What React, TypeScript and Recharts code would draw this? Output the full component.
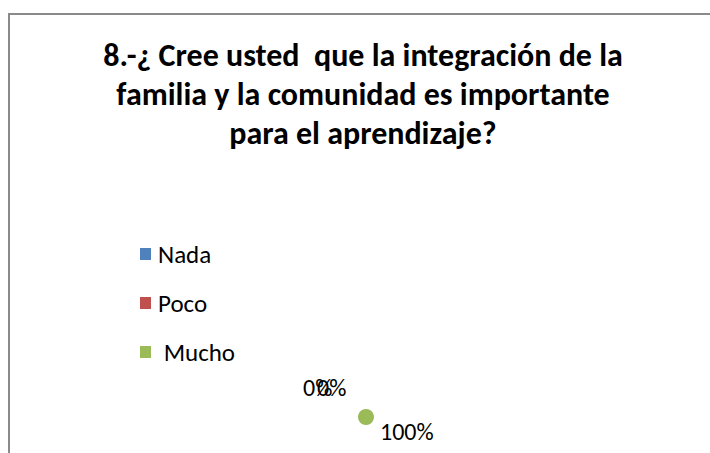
import React from 'react';
import { PieChart, Pie, Cell, Legend } from 'recharts';

const categories = ['Nada', 'Poco', ' Mucho'];
const values = [0, 0, 100];
const colors = ['#4F81BD', '#C0504D', '#9BBB59'];
const titleLines = [
  '8.-¿ Cree usted  que la integración de la',
  'familia y la comunidad es importante',
  'para el aprendizaje?',
];

const data = categories.map((name, i) => ({ name, value: values[i] }));

const FONT = 'Carlito, Calibri, Lato, sans-serif';

const labelOffsets = [
  { dx: -63, dy: -21 },
  { dx: -49, dy: -21 },
  { dx: 14, dy: 23 },
];

const renderLabel = (props: any) => {
  const { cx, cy, index, percent } = props;
  const o = labelOffsets[index] || { dx: 0, dy: 0 };
  return (
    <text
      key={`lbl-${index}`}
      x={cx + o.dx}
      y={cy + o.dy}
      fill="#000"
      fontFamily={FONT}
      fontSize={24}
      textAnchor="start"
    >
      {`${Math.round((percent || 0) * 100)}%`}
    </text>
  );
};

const renderLegend = () => {
  return (
    <svg width={240} height={160} style={{ display: 'block', overflow: 'visible' }}>
      {categories.map((name, i) => (
        <g key={i}>
          <rect x={10} y={19 + i * 49} width={11} height={12} fill={colors[i]} />
          <text
            x={28}
            y={34 + i * 49}
            fontFamily={FONT}
            fontSize={25}
            fill="#000"
            style={{ whiteSpace: 'pre' }}
          >
            {name}
          </text>
        </g>
      ))}
    </svg>
  );
};

export default function App() {
  return (
    <div
      style={{
        position: 'fixed',
        left: 0,
        top: 0,
        width: 710,
        height: 453,
        overflow: 'hidden',
        background: '#fff',
      }}
    >
      <div
        style={{
          position: 'absolute',
          left: 8,
          top: 13,
          width: 900,
          height: 900,
          border: '2px solid #8a8a8a',
          boxSizing: 'border-box',
        }}
      />
      <svg
        width={710}
        height={453}
        style={{ position: 'absolute', left: 0, top: 0 }}
      >
        {titleLines.map((t, i) => (
          <text
            key={i}
            x={363}
            y={66 + i * 39}
            textAnchor="middle"
            fontFamily={FONT}
            fontWeight="bold"
            fontSize={32}
            fill="#000"
            style={{ whiteSpace: 'pre' }}
          >
            {t}
          </text>
        ))}
      </svg>
      <div style={{ position: 'absolute', left: 0, top: 0 }}>
        <PieChart width={710} height={453} margin={{ top: 0, right: 0, bottom: 0, left: 0 }}>
          <Pie
            data={data}
            dataKey="value"
            nameKey="name"
            cx={366}
            cy={417}
            outerRadius={8}
            startAngle={90}
            endAngle={-270}
            stroke="none"
            label={renderLabel}
            labelLine={false}
            isAnimationActive={false}
          >
            {data.map((d, i) => (
              <Cell key={d.name} fill={colors[i]} />
            ))}
          </Pie>
          <Legend
            layout="vertical"
            content={renderLegend}
            wrapperStyle={{ position: 'absolute', left: 130, top: 229, width: 240, height: 160 }}
          />
        </PieChart>
      </div>
    </div>
  );
}
